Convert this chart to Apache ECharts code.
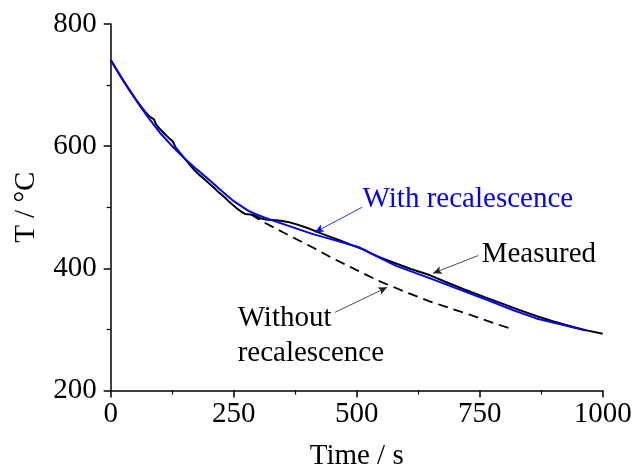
<!DOCTYPE html>
<html>
<head>
<meta charset="utf-8">
<script src="https://cdn.jsdelivr.net/npm/echarts@6/dist/echarts.min.js"></script>
<style>
  html, body { margin: 0; padding: 0; background: #fff; }
  #main { width: 633px; height: 470px; }
</style>
</head>
<body>
<div id="main"></div>
<script>
// [time s, temperature °C]
var measured = [
  [0, 741], [10, 728], [20, 715], [30, 702], [40, 690], [50, 678], [60, 667],
  [70, 656], [80, 648], [88, 644], [92, 636], [100, 628], [110, 620], [120, 612],
  [126, 608], [132, 598], [140, 590], [151, 579], [160, 570], [170, 561],
  [180, 553], [192, 545], [200, 539], [210, 532], [220, 524], [232, 516],
  [242, 508], [255, 499], [265, 493], [273, 489], [285, 488], [295, 486],
  [303, 482], [315, 480], [330, 479], [345, 478], [360, 476], [378, 472],
  [400, 466], [425, 458], [445, 452], [465, 446], [490, 438], [513, 431],
  [530, 424], [550, 417], [580, 408], [610, 399], [648, 389], [680, 378],
  [720, 365], [763, 352], [800, 341], [830, 332], [865, 322], [900, 313],
  [940, 304], [970, 298], [1000, 293]
];
var withRecal = [
  [0, 741], [20, 714], [40, 689], [60, 665], [80, 643], [100, 622], [125, 600],
  [150, 580], [175, 562], [200, 545], [225, 527], [250, 510], [280, 494],
  [300, 487], [327, 479], [360, 470], [411, 456], [460, 445], [506, 434],
  [540, 420], [580, 404], [648, 384], [700, 368], [763, 349], [820, 331],
  [865, 318], [920, 307], [966, 298]
];
var withoutRecal = [
  [285, 488], [310, 476], [350, 459], [411, 434], [450, 417], [500, 397],
  [546, 379], [600, 361], [648, 346], [700, 332], [730, 324], [780, 310],
  [814, 301]
];
var xTicks = [0, 250, 500, 750, 1000];
var yTicks = [200, 400, 600, 800];

// annotation text anchors (left edge, vertical middle) and pointer arrows, in data units
var labelWith = [512, 513];
var labelMeasured = [754, 423];
var labelWithout = [258, 290];
var arrowWith = [[511, 500], [415, 459]];
var arrowMeasured = [[747, 421], [655, 392]];
var arrowWithout = [[456, 328], [562, 369]];

var FONT = '"Liberation Serif", "Times New Roman", serif';
var BLUE = '#0000ff';

function textPoint(coord, text, color, extra) {
  var lbl = {
    show: true, position: 'right', distance: 0, formatter: text,
    color: color, fontFamily: FONT, fontSize: 29
  };
  for (var k in extra) lbl[k] = extra[k];
  return { coord: coord, symbol: 'circle', symbolSize: 0, label: lbl };
}

function arrow(pts, color) {
  return [
    { coord: pts[0], symbol: 'none', lineStyle: { color: color, width: 0.8, type: 'solid' } },
    { coord: pts[1], symbol: 'arrow', symbolSize: [6, 9] }
  ];
}

var chart = echarts.init(document.getElementById('main'), null, { renderer: 'canvas' });

var axisCommon = {
  type: 'value',
  nameLocation: 'middle',
  nameTextStyle: { fontFamily: FONT, fontSize: 29, color: '#000' },
  axisLine: { show: true, lineStyle: { color: '#000', width: 1.5 } },
  axisTick: { show: true, length: 7, lineStyle: { color: '#000', width: 1.5 } },
  minorTick: { show: true, splitNumber: 2, length: 4, lineStyle: { color: '#000', width: 1.2 } },
  splitLine: { show: false },
  axisLabel: { fontFamily: FONT, fontSize: 29, color: '#000', formatter: function (v) { return String(v); } }
};

var option = {
  animation: false,
  backgroundColor: '#fff',
  grid: { left: 110.7, right: 30.3, top: 24, bottom: 79.5, containLabel: false, outerBoundsMode: 'none' },
  xAxis: Object.assign({}, axisCommon, {
    name: 'Time / s', nameGap: 51,
    min: xTicks[0], max: xTicks[xTicks.length - 1], interval: xTicks[1] - xTicks[0],
    axisLabel: Object.assign({}, axisCommon.axisLabel, { margin: 9 })
  }),
  yAxis: Object.assign({}, axisCommon, {
    name: 'T / °C', nameGap: 70,
    min: yTicks[0], max: yTicks[yTicks.length - 1], interval: yTicks[1] - yTicks[0],
    axisLabel: Object.assign({}, axisCommon.axisLabel, { margin: 14 })
  }),
  series: [
    {
      name: 'Without recalescence', type: 'line', data: withoutRecal,
      showSymbol: false, silent: true,
      lineStyle: { color: '#000', width: 1.8, type: [10, 6] },
      markLine: {
        silent: true, label: { show: false },
        data: [arrow(arrowWithout, '#222')]
      },
      markPoint: {
        silent: true,
        data: [textPoint(labelWithout, 'Without\nrecalescence', '#000', { lineHeight: 35 })]
      }
    },
    {
      name: 'Measured', type: 'line', data: measured,
      showSymbol: false, silent: true,
      lineStyle: { color: '#000', width: 2 },
      markLine: {
        silent: true, label: { show: false },
        data: [arrow(arrowMeasured, '#222')]
      },
      markPoint: {
        silent: true,
        data: [textPoint(labelMeasured, 'Measured', '#000', {})]
      }
    },
    {
      name: 'With recalescence', type: 'line', data: withRecal,
      showSymbol: false, silent: true,
      lineStyle: { color: BLUE, width: 2 },
      markLine: {
        silent: true, label: { show: false },
        data: [arrow(arrowWith, BLUE)]
      },
      markPoint: {
        silent: true,
        data: [textPoint(labelWith, 'With recalescence', BLUE, {})]
      }
    }
  ]
};

chart.setOption(option);
</script>
</body>
</html>
